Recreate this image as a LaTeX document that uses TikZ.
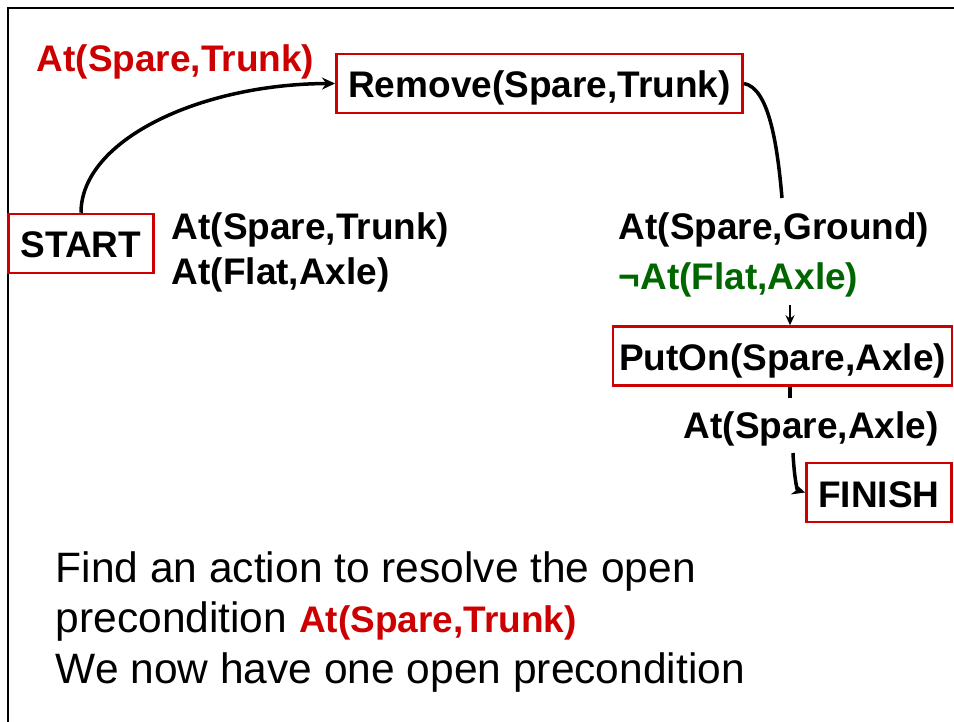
\documentclass[tikz,border=0pt]{standalone}
\usepackage{fontspec}
\setmainfont{Liberation Sans}
\usepackage{tikz}
\usetikzlibrary{positioning}
\usetikzlibrary{arrows.meta}
\definecolor{myred}{RGB}{204,0,0}
\definecolor{mygreen}{RGB}{0,102,0}
\tikzset{action node/.style={rectangle,draw=myred,fill=white,line width=2.5pt,minimum height=59pt,inner xsep=12pt,text height=33pt,text depth=4pt,font=\bfseries\fontsize{37}{44}\selectfont},
cond node/.style={inner sep=0pt,anchor=base west,font=\bfseries\fontsize{37}{44}\selectfont},}

\begin{document}
\begin{tikzpicture}[x=1pt, y=-1pt, >={Stealth[length=13pt,width=12pt]}, line width=3.5pt]
	\useasboundingbox (0,0) rectangle (954,722);
	\draw[line width=2.5pt] (8,722) -- (8,8) -- (954,8);

	\node[action node] (start) at (81,243.5) {START};
	\node[action node] (remove) at (539.5,83.5) {Remove(Spare,Trunk)};
	\node[action node, inner xsep=6pt] (puton) at (782.5,356) {PutOn(Spare,Axle)};
	\node[action node] (finish) at (879,492.5) {FINISH};

	% conditions
	\node[cond node, text=myred] (open) at (35,72) {At(Spare,Trunk)};
	\node[cond node] (sT) at (170,240) {At(Spare,Trunk)};
	\node[cond node] (fA) at (170,285) {At(Flat,Axle)};
	\node[cond node] (sG) at (617,240) {At(Spare,Ground)};
	\node[cond node, text=mygreen] (nfA) at (617,290) {¬At(Flat,Axle)};
	\node[cond node] (sA) at (682,438) {At(Spare,Axle)};

	\coordinate (g1) at (782,198);
	\coordinate (g2) at (790,305);
	\coordinate (a1) at (790,398);
	\coordinate (a2) at (793,453);

	\draw[->] (start.north) .. controls (81,140) and (200,84) .. (remove.west);
	\draw (remove.east) .. controls (768,88) and (777,140) .. (g1);
	\draw[->, line width=2pt, >={Stealth[length=10pt,width=9pt]}] (g2) -- (puton.north -| g2);
	\draw (puton.south -| a1) -- (a1);
	\draw[->] (a2) .. controls (794,475) and (797,490) .. (finish.west);

	\node[anchor=base west, inner sep=0pt, align=left, font=\fontsize{42.5}{50.5}\selectfont] (note) at (54,683)
	{Find an action to resolve the open\\precondition {\bfseries\fontsize{37}{50.5}\selectfont\color{myred}At(Spare,Trunk)}\\We now have one open precondition};
\end{tikzpicture}
\end{document}
